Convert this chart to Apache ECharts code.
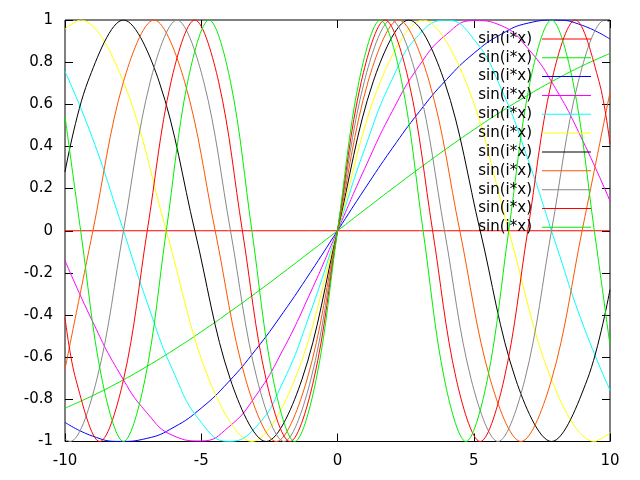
<!DOCTYPE html>
<html>
<head>
<meta charset="utf-8">
<script src="https://cdn.jsdelivr.net/npm/echarts@6/dist/echarts.min.js"></script>
<style>
  html, body { margin: 0; padding: 0; background: #fff; }
  #chart { width: 640px; height: 480px; }
</style>
</head>
<body>
<div id="chart"></div>
<script>
const xTicks = [-10, -5, 0, 5, 10]
const yTicks = [-1, -0.8, -0.6, -0.4, -0.2, 0, 0.2, 0.4, 0.6, 0.8, 1]

// slow curves: read at every whole x
const xStep1 = [-10, -9, -8, -7, -6, -5, -4, -3, -2, -1, 0, 1, 2, 3, 4, 5, 6, 7, 8, 9, 10]
const y00 = [0, 0, 0, 0, 0, 0, 0, 0, 0, 0, 0, 0, 0, 0, 0, 0, 0, 0, 0, 0, 0]
const y01 = [-.8415, -.7833, -.7174, -.6442, -.5646, -.4794, -.3894, -.2955, -.1987, -.0998, 0,
  .0998, .1987, .2955, .3894, .4794, .5646, .6442, .7174, .7833, .8415]
const y02 = [-.9093, -.9738, -.9996, -.9854, -.9320, -.8415, -.7174, -.5646, -.3894, -.1987, 0,
  .1987, .3894, .5646, .7174, .8415, .9320, .9854, .9996, .9738, .9093]
const y03 = [-.1411, -.4274, -.6755, -.8632, -.9738, -.9975, -.9320, -.7833, -.5646, -.2955, 0,
  .2955, .5646, .7833, .9320, .9975, .9738, .8632, .6755, .4274, .1411]
const y04 = [.7568, .4425, .0584, -.3350, -.6755, -.9093, -.9996, -.9320, -.7174, -.3894, 0,
  .3894, .7174, .9320, .9996, .9093, .6755, .3350, -.0584, -.4425, -.7568]

// fast curves: read at peaks, troughs, crossings and the points halfway up
const x05 = [-10, -9.4248, -7.8540, -6.2832, -4.7124, -3.1416, -1.5708, 0, 1.5708, 3.1416, 4.7124, 6.2832, 7.8540, 9.4248, 10]
const y05 = [.9589, 1, .7071, 0, -.7071, -1, -.7071, 0, .7071, 1, .7071, 0, -.7071, -1, -.9589]
const x06 = [-10, -9.1630, -7.8540, -6.5450, -5.2360, -3.9270, -2.6180, -1.3090, 0, 1.3090, 2.6180, 3.9270, 5.2360, 6.5450, 7.8540, 9.1630, 10]
const y06 = [.2794, .7071, 1, .7071, 0, -.7071, -1, -.7071, 0, .7071, 1, .7071, 0, -.7071, -1, -.7071, -.2794]
const x07 = [-10, -8.9760, -7.8540, -6.7320, -5.6100, -4.4880, -3.3660, -2.2440, -1.1220, 0, 1.1220, 2.2440, 3.3660, 4.4880, 5.6100, 6.7320, 7.8540, 8.9760, 10]
const y07 = [-.6570, 0, .7071, 1, .7071, 0, -.7071, -1, -.7071, 0, .7071, 1, .7071, 0, -.7071, -1, -.7071, 0, .6570]
const x08 = [-10, -9.8175, -8.8357, -7.8540, -6.8722, -5.8905, -4.9087, -3.9270, -2.9452, -1.9635, -.9817, 0, .9817, 1.9635, 2.9452, 3.9270, 4.9087, 5.8905, 6.8722, 7.8540, 8.8357, 9.8175, 10]
const y08 = [-.9894, -1, -.7071, 0, .7071, 1, .7071, 0, -.7071, -1, -.7071, 0, .7071, 1, .7071, 0, -.7071, -1, -.7071, 0, .7071, 1, .9894]
const x09 = [-10, -9.5993, -8.7266, -7.8540, -6.9813, -6.1087, -5.2360, -4.3633, -3.4907, -2.6180, -1.7453, -.8727, 0, .8727, 1.7453, 2.6180, 3.4907, 4.3633, 5.2360, 6.1087, 6.9813, 7.8540, 8.7266, 9.5993, 10]
const y09 = [-.4121, -.7071, -1, -.7071, 0, .7071, 1, .7071, 0, -.7071, -1, -.7071, 0, .7071, 1, .7071, 0, -.7071, -1, -.7071, 0, .7071, 1, .7071, .4121]
const x10 = [-10, -9.4248, -8.6394, -7.8540, -7.0686, -6.2832, -5.4978, -4.7124, -3.9270, -3.1416, -2.3562, -1.5708, -.7854, 0, .7854, 1.5708, 2.3562, 3.1416, 3.9270, 4.7124, 5.4978, 6.2832, 7.0686, 7.8540, 8.6394, 9.4248, 10]
const y10 = [.5440, 0, -.7071, -1, -.7071, 0, .7071, 1, .7071, 0, -.7071, -1, -.7071, 0, .7071, 1, .7071, 0, -.7071, -1, -.7071, 0, .7071, 1, .7071, 0, -.5440]

const legendLabel = 'sin(i*x)'
const curves = [
  { x: xStep1, y: y00, color: '#ff0000', smooth: false },
  { x: xStep1, y: y01, color: '#00ee00', smooth: 0.5 },
  { x: xStep1, y: y02, color: '#0000ff', smooth: 0.5 },
  { x: xStep1, y: y03, color: '#ff00ff', smooth: 0.5 },
  { x: xStep1, y: y04, color: '#00ffff', smooth: 0.5 },
  { x: x05, y: y05, color: '#ffff00', smooth: 0.35 },
  { x: x06, y: y06, color: '#000000', smooth: 0.35 },
  { x: x07, y: y07, color: '#ff5500', smooth: 0.35 },
  { x: x08, y: y08, color: '#888888', smooth: 0.35 },
  { x: x09, y: y09, color: '#ff0000', smooth: 0.35 },
  { x: x10, y: y10, color: '#00ee00', smooth: 0.35 }
]

const font = 'DejaVu Sans'
const chart = echarts.init(document.getElementById('chart'))

const series = curves.map((c, k) => ({
  name: 'c' + k,
  type: 'line',
  data: c.x.map((x, j) => [x, c.y[j]]),
  smooth: c.smooth,
  showSymbol: false,
  symbol: 'none',
  clip: true,
  itemStyle: { color: c.color },
  lineStyle: { color: c.color, width: 1 }
}))

const tickStyle = { show: true, inside: true, length: 8, lineStyle: { color: '#000', width: 1 } }
const labelStyle = { color: '#000', fontSize: 15, fontFamily: font }
const noLine = { show: false, onZero: false }

chart.setOption({
  animation: false,
  backgroundColor: '#fff',
  grid: {
    left: 65, right: 30, top: 20, bottom: 38.5,
    show: true, borderColor: '#000', borderWidth: 1, backgroundColor: 'transparent'
  },
  legend: {
    data: series.map(s => s.name),
    orient: 'vertical',
    right: 49,
    top: 29.5,
    padding: 0,
    align: 'right',
    icon: 'rect',
    itemWidth: 49,
    itemHeight: 1,
    itemGap: 0,
    selectedMode: false,
    formatter: () => legendLabel,
    textStyle: { color: '#000', fontSize: 15, fontFamily: font, lineHeight: 18.84, padding: [0, 5, 0, 0] }
  },
  xAxis: [
    {
      type: 'value', min: xTicks[0], max: xTicks[xTicks.length - 1], interval: 5,
      axisLine: noLine, axisTick: tickStyle, splitLine: { show: false },
      axisLabel: Object.assign({ margin: 12 }, labelStyle)
    },
    {
      type: 'value', position: 'top', min: xTicks[0], max: xTicks[xTicks.length - 1], interval: 5,
      axisLine: noLine, axisTick: tickStyle, splitLine: { show: false },
      axisLabel: { show: false }
    }
  ],
  yAxis: [
    {
      type: 'value', min: yTicks[0], max: yTicks[yTicks.length - 1], interval: 0.2,
      axisLine: noLine, axisTick: tickStyle, splitLine: { show: false },
      axisLabel: Object.assign({ margin: 12 }, labelStyle)
    },
    {
      type: 'value', position: 'right', min: yTicks[0], max: yTicks[yTicks.length - 1], interval: 0.2,
      axisLine: noLine, axisTick: tickStyle, splitLine: { show: false },
      axisLabel: { show: false }
    }
  ],
  series: series
})
</script>
</body>
</html>
